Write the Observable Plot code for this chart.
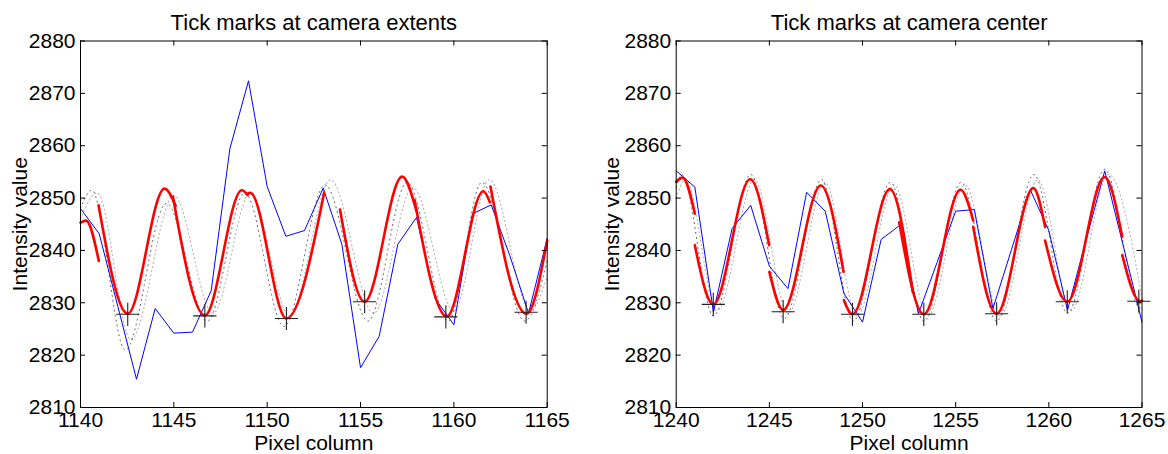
<!DOCTYPE html>
<html>
<head>
<meta charset="utf-8">
<script src="https://cdn.jsdelivr.net/npm/d3@7"></script>
<script src="https://cdn.jsdelivr.net/npm/@observablehq/plot@0.6"></script>
<style>
  html, body { margin: 0; padding: 0; background: #fff; }
  #wrap { position: relative; width: 1168px; height: 454px; overflow: hidden; background: #fff; }
  #wrap > svg { position: absolute; top: 0; }
</style>
</head>
<body>
<div id="wrap"></div>
<script>
// ---------- data ----------
const leftTitle = "Tick marks at camera extents";
const rightTitle = "Tick marks at camera center";
const xLabel = "Pixel column";
const yLabel = "Intensity value";

const leftPixels = [1140,1141,1142,1143,1144,1145,1146,1147,1148,1149,1150,1151,1152,1153,1154,1155,1156,1157,1158,1159,1160,1161,1162,1163,1164,1165];
const leftIntensity = [2848.0,2843.2,2829.3,2815.4,2828.9,2824.2,2824.4,2832.3,2859.4,2872.4,2852.2,2842.7,2843.8,2851.9,2841.2,2817.6,2823.6,2841.2,2846.3,2830.8,2825.8,2847.0,2848.7,2839.0,2828.0,2842.3];

const rightPixels = [1240,1241,1242,1243,1244,1245,1246,1247,1248,1249,1250,1251,1252,1253,1254,1255,1256,1257,1258,1259,1260,1261,1262,1263,1264,1265];
const rightIntensity = [2855.2,2852.1,2828.2,2844.2,2848.6,2837.0,2832.7,2851.1,2847.5,2831.8,2826.3,2842.1,2844.8,2827.9,2837.7,2847.5,2847.8,2828.9,2840.2,2851.6,2843.8,2828.6,2842.0,2855.2,2840.8,2826.3];

// fitted segments (key points: ends and extrema)
const leftFitSegments = [
  [[1140,2845.3],[1140.3,2845.7],[1140.98,2838.0]],
  [[1140.97,2848.6],[1142.53,2827.9],[1144.5,2851.8],[1145.1,2848.5]],
  [[1144.95,2850.3],[1146.66,2827.6],[1148.64,2851.5],[1148.95,2850.6]],
  [[1148.9,2850.8],[1149.1,2851.0],[1151.03,2827.0],[1153.05,2851.0]],
  [[1153.9,2847.8],[1155.22,2830.2],[1157.23,2854.1],[1158.0,2847.5]],
  [[1157.9,2849.6],[1159.62,2827.4],[1161.58,2851.3],[1161.93,2849.2]],
  [[1161.96,2852.2],[1163.89,2827.9],[1165,2841.9]]
];
const rightFitSegments = [
  [[1240,2853.1],[1240.34,2853.9],[1241.0,2847.0]],
  [[1241.0,2841.0],[1241.99,2829.7],[1243.97,2853.6],[1244.99,2841.0]],
  [[1245.0,2835.9],[1245.74,2828.6],[1247.76,2852.4],[1248.98,2835.9]],
  [[1249.0,2830.5],[1249.46,2827.8],[1251.47,2851.7],[1252.7,2832.0]],
  [[1251.97,2845.4],[1253.29,2827.8],[1255.26,2851.6],[1255.94,2845.7]],
  [[1255.94,2844.5],[1257.2,2827.9],[1259.17,2851.9],[1259.8,2844.5]],
  [[1259.8,2841.9],[1260.99,2830.2],[1262.99,2854.0],[1263.94,2842.6]],
  [[1263.94,2839.1],[1264.9,2830.3],[1265,2830.4]]
];

// dotted envelope curves (key extrema)
const leftDarkDotted = [[1140,2848],[1140.6,2851.5],[1142.4,2821],[1144.6,2849],[1146.8,2826.5],[1148.8,2851],[1150.9,2825.5],[1153.1,2852.5],[1155.4,2826.5],[1157.5,2853],[1159.7,2826.5],[1161.5,2853],[1163.8,2826.5],[1165,2838]];
const leftLightDotted = [[1140,2846],[1140.9,2851],[1142.7,2823],[1145.0,2850.5],[1147.1,2828],[1149.1,2851],[1151.2,2827.5],[1153.4,2853.5],[1155.7,2828],[1157.8,2852],[1160.0,2828.5],[1161.9,2853.5],[1164.1,2828.5],[1165,2835]];
const rightDarkDotted = [[1240,2852],[1240.3,2854.5],[1242.0,2827.5],[1244.0,2854.5],[1245.8,2827],[1247.8,2853.5],[1249.5,2826.5],[1251.5,2853],[1253.3,2826.5],[1255.3,2853],[1257.2,2826.5],[1259.2,2854.5],[1261.0,2828],[1263.0,2855.5],[1264.9,2829],[1265,2829.5]];
const rightLightDotted = [[1240,2850],[1240.5,2853.5],[1242.2,2828.5],[1244.2,2853.5],[1246.0,2828],[1248.0,2853],[1249.7,2827.5],[1251.7,2852.5],[1253.5,2827.5],[1255.5,2852.5],[1257.4,2827.5],[1259.4,2853.5],[1261.2,2828.5],[1263.2,2854.5],[1265,2831]];

// tick marks (minima)
const leftTicks = [[1142.53,2827.8],[1146.66,2827.5],[1151.03,2827.0],[1155.22,2830.2],[1159.57,2827.3],[1163.87,2828.2]];
const rightTicks = [[1241.99,2829.7],[1245.74,2828.3],[1249.46,2827.8],[1253.29,2827.8],[1257.2,2827.9],[1260.99,2830.2],[1264.83,2830.3]];

const leftXTicks = [1140,1145,1150,1155,1160,1165];
const rightXTicks = [1240,1245,1250,1255,1260,1265];
const yTicks = [2810,2820,2830,2840,2850,2860,2870,2880];

// ---------- drawing ----------
const H = 454, MT = 40.5, MB = 47;
const innerH = H - MT - MB;

function panel({title, pixels, intensity, segments, dark, light, ticks, xTicks, domain, width, ml, mr, ylabDx}) {
  const innerW = width - ml - mr;
  const fit = segments.flatMap((seg, i) => seg.map(([x, y]) => ({x, y, s: i})));
  const blue = pixels.map((x, i) => ({x, y: intensity[i]}));
  return Plot.plot({
    width, height: H,
    marginLeft: ml, marginRight: mr, marginTop: MT, marginBottom: MB,
    style: {fontFamily: "'Liberation Sans', Arial, Helvetica, sans-serif", fontSize: "21px", color: "#000", background: "transparent", overflow: "visible"},
    x: {domain},
    y: {domain: [2810, 2880]},
    marks: [
      Plot.line(light, {x: d => d[0], y: d => d[1], curve: "monotone-x", stroke: "#b4b4b4", strokeWidth: 1.1, strokeDasharray: "1.2,3"}),
      Plot.line(dark, {x: d => d[0], y: d => d[1], curve: "monotone-x", stroke: "#555", strokeWidth: 1, strokeDasharray: "1,4"}),
      Plot.line(blue, {x: "x", y: "y", stroke: "#0000ff", strokeWidth: 1}),
      Plot.line(fit, {x: "x", y: "y", z: "s", curve: "monotone-x", stroke: "#ff0000", strokeWidth: 2.6}),
      Plot.dot(ticks, {x: d => d[0], y: d => d[1], symbol: "plus", r: 7.5, stroke: "#222", strokeWidth: 1.1}),
      Plot.frame({stroke: "#000", strokeWidth: 1}),
      Plot.tickX(xTicks, {x: d => d, insetTop: innerH - 5, stroke: "#000"}),
      Plot.tickX(xTicks, {x: d => d, insetBottom: innerH - 5, stroke: "#000"}),
      Plot.tickY(yTicks, {y: d => d, insetRight: innerW - 5, stroke: "#000"}),
      Plot.tickY(yTicks, {y: d => d, insetLeft: innerW - 5, stroke: "#000"}),
      Plot.axisX({ticks: xTicks, tickSize: 0, tickPadding: 5, tickFormat: "d", label: null, fontSize: 21}),
      Plot.axisY({ticks: yTicks, tickSize: 0, tickPadding: 5, tickFormat: "d", label: null, fontSize: 21}),
      Plot.text([title], {frameAnchor: "top", dy: -11, lineAnchor: "bottom", fontSize: 22, fill: "#000"}),
      Plot.text([xLabel], {frameAnchor: "bottom", dy: 42, lineAnchor: "bottom", fontSize: 21, fill: "#000"}),
      Plot.text([yLabel], {frameAnchor: "left", textAnchor: "middle", dx: ylabDx, rotate: -90, fontSize: 21, fill: "#000"})
    ]
  });
}

const wrap = document.getElementById("wrap");
const left = panel({title: leftTitle, pixels: leftPixels, intensity: leftIntensity, segments: leftFitSegments,
  dark: leftDarkDotted, light: leftLightDotted, ticks: leftTicks, xTicks: leftXTicks, domain: [1140, 1165],
  width: 584, ml: 80, mr: 37.3, ylabDx: -60});
left.style.left = "0px";
wrap.appendChild(left);
const right = panel({title: rightTitle, pixels: rightPixels, intensity: rightIntensity, segments: rightFitSegments,
  dark: rightDarkDotted, light: rightLightDotted, ticks: rightTicks, xTicks: rightXTicks, domain: [1240, 1265],
  width: 584, ml: 91.7, mr: 26.5, ylabDx: -64});
right.style.left = "584px";
wrap.appendChild(right);
</script>
</body>
</html>
